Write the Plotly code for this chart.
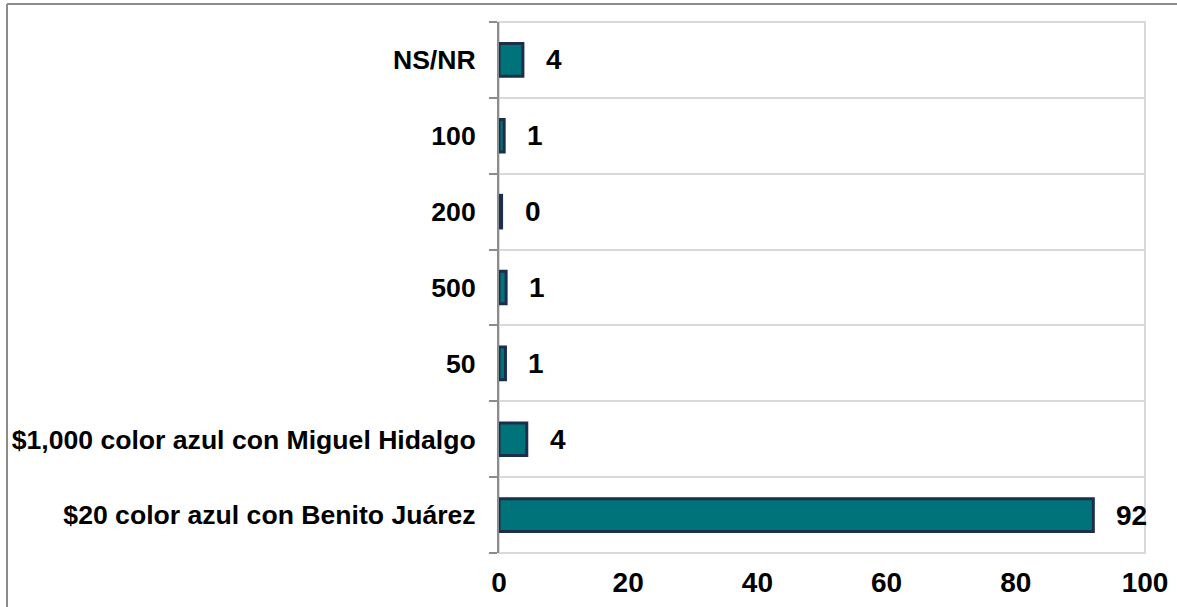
# Billete - preferencias (barras horizontales)
import plotly.graph_objects as go

categorias = [
    "NS/NR",
    "100",
    "200",
    "500",
    "50",
    "$1,000 color azul con Miguel Hidalgo",
    "$20 color azul con Benito Juárez",
]
valores = [3.7, 0.8, 0.4, 1.1, 1.0, 4.3, 92.0]
etiquetas = ["4", "1", "0", "1", "1", "4", "92"]
x_ticks = [0, 20, 40, 60, 80, 100]

TEAL = "#00737A"
NAVY = "#1B2E4B"
AXIS_GRAY = "#8C8C8C"
GRID_GRAY = "#D9D9D9"
FONT = "Liberation Sans, Arial, sans-serif"

fig = go.Figure()

fig.add_trace(go.Bar(
    x=valores,
    y=categorias,
    orientation="h",
    marker=dict(color=TEAL, line=dict(color=NAVY, width=3)),
    width=0.43,
    hoverinfo="x+y",
    showlegend=False,
))

# data labels to the right of each bar (category index, since some
# category names look like numbers)
for i, (val, txt) in enumerate(zip(valores, etiquetas)):
    fig.add_annotation(
        x=val, y=i,
        text=f"<b>{txt}</b>",
        showarrow=False,
        xanchor="left",
        xshift=21,
        font=dict(family=FONT, size=28, color="black"),
    )

# plot area border (top, right, bottom)
fig.add_shape(type="rect", xref="paper", yref="paper",
              x0=0, x1=1, y0=0, y1=1,
              line=dict(color=GRID_GRAY, width=2),
              fillcolor="rgba(0,0,0,0)", layer="below")

# outer chart frame (cut off on the right / bottom)
fig.add_shape(type="line", xref="paper", yref="paper",
              x0=-0.7616, x1=-0.7616, y0=-0.3, y1=1.0339,
              line=dict(color=AXIS_GRAY, width=2))
fig.add_shape(type="line", xref="paper", yref="paper",
              x0=-0.7616, x1=1.2, y0=1.0339, y1=1.0339,
              line=dict(color=AXIS_GRAY, width=2))

fig.update_layout(
    width=1177,
    height=607,
    margin=dict(l=499, r=32, t=22, b=54),
    plot_bgcolor="white",
    paper_bgcolor="white",
    font=dict(family=FONT, color="black"),
    xaxis=dict(
        automargin=False,
        range=[0, 100],
        tickvals=x_ticks,
        ticktext=[f"<b>{v}</b>" for v in x_ticks],
        tickfont=dict(family=FONT, size=28, color="black"),
        showgrid=False,
        zeroline=False,
        showline=False,
        ticks="",
        ticklabelstandoff=10,
    ),
    yaxis=dict(
        automargin=False,
        type="category",
        categoryorder="array",
        categoryarray=categorias,
        range=[len(categorias) - 0.5, -0.5],
        ticktext=[f"<b>{c}</b>" for c in categorias],
        tickvals=list(range(len(categorias))),
        tickfont=dict(family=FONT, size=26.6, color="black"),
        showgrid=True,
        gridcolor=GRID_GRAY,
        gridwidth=2,
        tickson="boundaries",
        ticks="outside",
        ticklen=8,
        tickwidth=2,
        tickcolor=AXIS_GRAY,
        showline=True,
        linecolor=AXIS_GRAY,
        linewidth=2,
        ticklabelstandoff=16,
    ),
)

# drop the default 8px page margin so the figure sits at the window corner
fig.write_html("out.html", config={"displayModeBar": False},
               post_script="document.body.style.margin='0';")
